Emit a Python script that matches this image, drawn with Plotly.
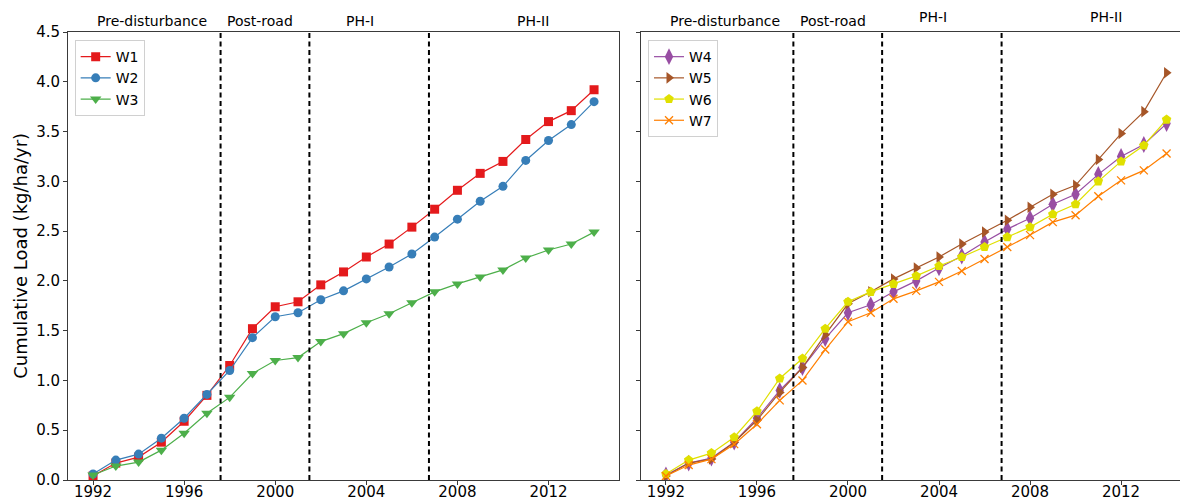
import plotly.graph_objects as go

# Water years sampled at each watershed
years = [1992, 1993, 1994, 1995, 1996, 1997, 1998, 1999, 2000, 2001, 2002, 2003,
         2004, 2005, 2006, 2007, 2008, 2009, 2010, 2011, 2012, 2013, 2014]

# Cumulative load (kg/ha/yr) per watershed
w1 = [0.04, 0.17, 0.23, 0.38, 0.59, 0.85, 1.15, 1.52, 1.74, 1.79, 1.96, 2.09,
      2.24, 2.37, 2.54, 2.72, 2.91, 3.08, 3.20, 3.42, 3.60, 3.71, 3.92]
w2 = [0.06, 0.20, 0.26, 0.42, 0.62, 0.86, 1.10, 1.43, 1.64, 1.68, 1.81, 1.90,
      2.02, 2.14, 2.27, 2.44, 2.62, 2.80, 2.95, 3.21, 3.41, 3.57, 3.80]
w3 = [0.05, 0.14, 0.18, 0.30, 0.47, 0.67, 0.83, 1.07, 1.20, 1.23, 1.39, 1.47,
      1.58, 1.67, 1.78, 1.89, 1.97, 2.04, 2.11, 2.23, 2.31, 2.37, 2.49]
w4 = [0.05, 0.17, 0.22, 0.38, 0.62, 0.90, 1.13, 1.42, 1.68, 1.76, 1.89, 2.00,
      2.13, 2.25, 2.39, 2.52, 2.63, 2.77, 2.87, 3.07, 3.25, 3.37, 3.58]
w5 = [0.04, 0.17, 0.21, 0.38, 0.60, 0.88, 1.13, 1.46, 1.77, 1.89, 2.02, 2.13,
      2.24, 2.37, 2.49, 2.61, 2.74, 2.87, 2.96, 3.22, 3.48, 3.70, 4.09]
w6 = [0.06, 0.20, 0.27, 0.43, 0.69, 1.02, 1.22, 1.52, 1.79, 1.89, 1.97, 2.05,
      2.15, 2.24, 2.34, 2.44, 2.54, 2.67, 2.77, 3.00, 3.20, 3.36, 3.62]
w7 = [0.04, 0.15, 0.21, 0.36, 0.56, 0.80, 1.00, 1.31, 1.59, 1.68, 1.82, 1.90,
      1.99, 2.10, 2.22, 2.34, 2.46, 2.59, 2.66, 2.85, 3.01, 3.11, 3.28]

# Disturbance phases and the years separating them
phase_names = ["Pre-disturbance", "Post-road", "PH-I", "PH-II"]
phase_breaks = [1997.6, 2001.5, 2006.75]

year_ticks = [1992, 1996, 2000, 2004, 2008, 2012]
load_ticks = [0.0, 0.5, 1.0, 1.5, 2.0, 2.5, 3.0, 3.5, 4.0, 4.5]

FONT = "DejaVu Sans"
AXIS_COLOR = "#3a3a3a"

fig = go.Figure()

series = [
    # name, values, colour, symbol, size, subplot
    ("W1", w1, "#e41a1c", "square", 9, 1),
    ("W2", w2, "#377eb8", "circle", 9, 1),
    ("W3", w3, "#4daf4a", "triangle-down", 10, 1),
    ("W4", w4, "#984ea3", "diamond-tall", 12, 2),
    ("W5", w5, "#a65628", "triangle-right", 10, 2),
    ("W6", w6, "#e0e000", "pentagon", 10, 2),
    ("W7", w7, "#ff7f00", "x-thin", 8, 2),
]

for name, vals, color, symbol, size, panel in series:
    marker = dict(symbol=symbol, size=size, color=color)
    if symbol == "x-thin":
        marker["line"] = dict(color=color, width=1.3)
    else:
        marker["line"] = dict(width=0)
    fig.add_trace(go.Scatter(
        x=years, y=vals, name=name, mode="lines+markers",
        line=dict(color=color, width=1.2),
        marker=marker,
        xaxis="x" if panel == 1 else "x2",
        yaxis="y" if panel == 1 else "y2",
        legend="legend" if panel == 1 else "legend2",
    ))

# Dashed phase boundaries and phase names over each panel
label_x = [1994.58, 1999.35, 2003.73, 2011.32]
for xref, yref in (("x", "y domain"), ("x2", "y2 domain")):
    for b in phase_breaks:
        fig.add_shape(type="line", xref=xref, yref=yref, x0=b, x1=b, y0=0, y1=1,
                      line=dict(color="black", width=2, dash="5px,3.5px"),
                      layer="above")
for panel, xref in ((1, "x"), (2, "x2")):
    for i, (name, lx) in enumerate(zip(phase_names, label_x)):
        ly = 1.0245
        if panel == 2 and i >= 2:
            ly = 1.0335
        fig.add_annotation(x=lx, y=ly, xref=xref, yref="paper", text=name,
                           showarrow=False, xanchor="center", yanchor="middle",
                           font=dict(family=FONT, size=14, color="black"))

fig.add_annotation(x=-0.0434, y=0.5, xref="paper", yref="paper",
                   text="Cumulative Load (kg/ha/yr)", textangle=-90,
                   showarrow=False, xanchor="center", yanchor="middle",
                   font=dict(family=FONT, size=18, color="black"))

axis_common = dict(showgrid=False, zeroline=False, showline=True,
                   linecolor=AXIS_COLOR, linewidth=1, ticks="outside",
                   ticklen=4, tickwidth=1, tickcolor=AXIS_COLOR,
                   automargin=False,
                   tickfont=dict(family=FONT, size=15, color="black"))

legend_common = dict(bgcolor="white", bordercolor="#d0d0d0", borderwidth=1,
                     font=dict(family=FONT, size=14, color="black"),
                     xanchor="left", yanchor="top", tracegroupgap=0)

fig.update_layout(
    width=1180, height=501,
    margin=dict(l=68, r=0, t=32, b=21),
    paper_bgcolor="white", plot_bgcolor="white",
    font=dict(family=FONT),
    xaxis=dict(domain=[0, 0.4956], range=[1990.9, 2015.1], tickvals=year_ticks,
               mirror=True, anchor="y", ticklabelstandoff=-6, **axis_common),
    xaxis2=dict(domain=[0.5152, 1], range=[1990.9, 2014.59], tickvals=year_ticks,
                mirror=True, anchor="y2", ticklabelstandoff=-6, **axis_common),
    yaxis=dict(domain=[0, 1], range=[0, 4.5], tickvals=load_ticks,
               tickformat=".1f", mirror=True, anchor="x", **axis_common),
    yaxis2=dict(domain=[0, 1], range=[0, 4.5], tickvals=load_ticks,
                showticklabels=False, mirror=False, anchor="x2", **axis_common),
    legend=dict(x=0.006, y=0.982, **legend_common),
    legend2=dict(x=0.5216, y=0.982, **legend_common),
)

fig.write_html("out.html")
